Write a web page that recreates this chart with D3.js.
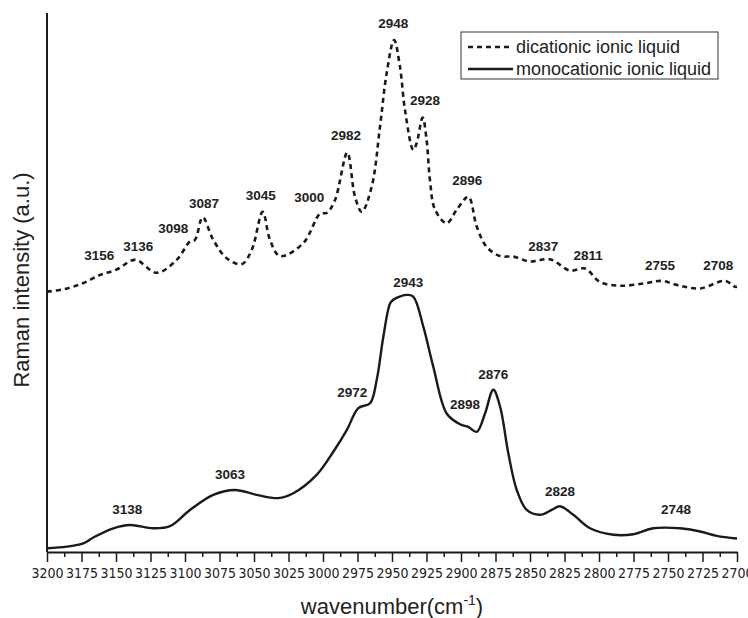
<!DOCTYPE html>
<html>
<head>
<meta charset="utf-8">
<script src="https://cdn.jsdelivr.net/npm/d3@7"></script>
<style>
  body { margin: 0; background: #fff; }
  svg { display: block; font-family: "Liberation Sans", Arial, sans-serif; }
</style>
</head>
<body>
<div id="chart"></div>
<script>
// Raman spectra: [wavenumber (cm-1), intensity (a.u.)]
const dicationic = [
  [3200, 48.3], [3187, 48.8], [3173.6, 49.9], [3161.6, 51.4], [3149.5, 52.4],
  [3136.2, 54.2], [3120.5, 51.8], [3106, 54.2], [3096.4, 57.6], [3092.8, 57.9],
  [3087.2, 62.1], [3079.5, 57.9], [3069.8, 54.5], [3058.9, 53.4], [3051.7, 56.0],
  [3043.7, 63.1], [3038.4, 57.9], [3031.2, 54.9], [3014.3, 57.3], [3002, 62.8],
  [2997.3, 62.9], [2991.3, 65.3], [2982.4, 74.1], [2976.8, 65.9], [2971.9, 63.1],
  [2964.7, 67.8], [2958.7, 78.9], [2953.9, 88.8], [2948.5, 95.0], [2944.2, 90.0],
  [2940.6, 82.0], [2934.6, 74.6], [2932.2, 75.8], [2927.8, 80.6], [2924.9, 76.4],
  [2922.5, 69.0], [2918.8, 63.5], [2910.4, 61.0], [2903.1, 63.5], [2894.7, 65.9],
  [2888.6, 60.4], [2881.4, 56.6], [2871.7, 54.9], [2862.1, 54.8], [2850, 53.9],
  [2835.5, 54.3], [2821, 52.2], [2810.1, 52.6], [2799.3, 50.1], [2784.8, 49.4],
  [2765.4, 49.9], [2754.6, 50.3], [2741.3, 49.4], [2726.8, 48.9], [2708.7, 50.3],
  [2701.4, 49.2], [2700, 49.2]
];

const monocationic = [
  [3200, 0.7], [3185.7, 1.0], [3173.7, 1.6], [3166.4, 2.7], [3151.9, 4.4],
  [3139.9, 5.0], [3123, 4.4], [3110.9, 4.8], [3096.4, 7.8], [3079.5, 10.6],
  [3063.8, 11.5], [3048, 10.6], [3032.4, 10.0], [3021.5, 10.9], [3004.6, 14.3],
  [2992.5, 18.6], [2982.8, 22.6], [2974.4, 26.7], [2965.9, 27.6], [2961.1, 31.9],
  [2956.3, 39.9], [2951.4, 46.1], [2949, 46.8], [2945.4, 47.3], [2939.4, 47.7],
  [2934.6, 47.4], [2927.3, 41.8], [2920.1, 34.4], [2910.4, 25.7], [2900.7, 23.7],
  [2894.7, 23.2], [2888.6, 22.3], [2882.6, 25.7], [2876.6, 30.1], [2871.7, 27.0],
  [2865.7, 18.3], [2859.6, 11.5], [2852.4, 7.8], [2842.8, 6.9], [2834.3, 7.8],
  [2828.3, 8.5], [2818.6, 6.9], [2806.5, 4.4], [2789.6, 3.2], [2775.1, 3.3],
  [2760.7, 4.4], [2741.3, 4.4], [2726.8, 3.8], [2714.7, 3.0], [2700, 2.5]
];

// peak labels: [text, wavenumber, intensity] of the label centre
const dicationicPeaks = [
  ["3156", 3162.1, 55.1], ["3136", 3133.8, 56.8], ["3098", 3108.5, 60.1],
  ["3087", 3086.2, 64.7], ["3045", 3045.1, 66.2], ["3000", 3009.9, 65.9],
  ["2982", 2983.3, 77.4], ["2948", 2949.1, 98.1], ["2928", 2926.1, 83.9],
  ["2896", 2895.4, 69.0], ["2837", 2840.4, 56.8], ["2811", 2807.8, 55.1],
  ["2755", 2755.8, 53.2], ["2708", 2713.6, 53.2]
];

const monocationicPeaks = [
  ["3138", 3141.8, 7.9], ["3063", 3067.4, 14.5], ["2972", 2978.8, 29.6],
  ["2943", 2938.2, 50.1], ["2898", 2897.1, 27.5], ["2876", 2876.6, 33.0],
  ["2828", 2828.3, 11.2], ["2748", 2744.2, 7.9]
];

const xTicks = d3.range(2700, 3201, 25);
const xMinorTicks = d3.range(2712.5, 3200, 25);
const seriesNames = ["dicationic ionic liquid", "monocationic ionic liquid"];

const W = 748, H = 618;
const plotLeft = 47, plotRight = 737, plotTop = 13, plotBottom = 552;

const x = d3.scaleLinear().domain([3200, 2700]).range([plotLeft, plotRight]);
const y = d3.scaleLinear().domain([0, 100]).range([plotBottom, plotTop]);

const svg = d3.select("#chart").append("svg")
  .attr("width", W).attr("height", H);

const ink = "#1a1a1a";

// minor ticks
svg.append("g")
  .attr("transform", `translate(0,${plotBottom})`)
  .call(d3.axisBottom(x).tickValues(xMinorTicks).tickSize(5).tickFormat(""))
  .call(g => g.select(".domain").remove())
  .call(g => g.selectAll("line").attr("stroke", ink).attr("stroke-width", 1.5));

// major ticks + labels
const xAxis = svg.append("g")
  .attr("transform", `translate(0,${plotBottom})`)
  .call(d3.axisBottom(x).tickValues(xTicks).tickSize(10).tickSizeOuter(0).tickFormat(d3.format("d")));
xAxis.select(".domain").attr("stroke", ink).attr("stroke-width", 2);
xAxis.selectAll("line").attr("stroke", ink).attr("stroke-width", 1.5);
xAxis.selectAll("text")
  .attr("y", 26).attr("dy", 0)
  .attr("fill", "#222")
  .style("font-family", "'Liberation Sans Narrow', 'DejaVu Sans Condensed', sans-serif")
  .style("font-size", "14px");

// y axis line (no ticks)
svg.append("line")
  .attr("x1", plotLeft).attr("x2", plotLeft)
  .attr("y1", plotTop).attr("y2", plotBottom)
  .attr("stroke", ink).attr("stroke-width", 2);

// axis titles
const xt = svg.append("text")
  .attr("x", 392).attr("y", 614)
  .attr("text-anchor", "middle")
  .attr("fill", "#222")
  .style("font-size", "22px")
  .text("wavenumber(cm");
xt.append("tspan").attr("dy", -9).style("font-size", "14px").text("-1");
xt.append("tspan").attr("dy", 9).text(")");

svg.append("text")
  .attr("transform", "translate(29,280) rotate(-90)")
  .attr("text-anchor", "middle")
  .attr("fill", "#222")
  .style("font-size", "22px")
  .text("Raman intensity (a.u.)");

// spectra
const line = d3.line()
  .x(d => x(d[0]))
  .y(d => y(d[1]))
  .curve(d3.curveCatmullRom.alpha(0.5));

svg.append("path")
  .datum(dicationic)
  .attr("d", line)
  .attr("fill", "none")
  .attr("stroke", ink)
  .attr("stroke-width", 2.6)
  .attr("stroke-dasharray", "5,4");

svg.append("path")
  .datum(monocationic)
  .attr("d", line)
  .attr("fill", "none")
  .attr("stroke", ink)
  .attr("stroke-width", 2.4);

// peak labels
const peakLabels = dicationicPeaks.concat(monocationicPeaks);
svg.append("g").selectAll("text")
  .data(peakLabels)
  .enter().append("text")
  .attr("x", d => x(d[1]))
  .attr("y", d => y(d[2]))
  .attr("dy", "0.36em")
  .attr("text-anchor", "middle")
  .attr("fill", "#222")
  .style("font-size", "13.5px")
  .style("font-weight", "bold")
  .text(d => d[0]);

// legend
const lg = svg.append("g");
lg.append("rect")
  .attr("x", 461).attr("y", 32).attr("width", 257).attr("height", 47)
  .attr("fill", "#fff").attr("stroke", "#333").attr("stroke-width", 1);
seriesNames.forEach((name, i) => {
  const cy = 47 + i * 22;
  lg.append("line")
    .attr("x1", 468).attr("x2", 513).attr("y1", cy).attr("y2", cy)
    .attr("stroke", ink)
    .attr("stroke-width", i === 0 ? 2.6 : 2.4)
    .attr("stroke-dasharray", i === 0 ? "5,4" : null);
  lg.append("text")
    .attr("x", 516).attr("y", cy + 6)
    .attr("fill", "#222")
    .style("font-size", "18px")
    .text(name);
});
</script>
</body>
</html>
